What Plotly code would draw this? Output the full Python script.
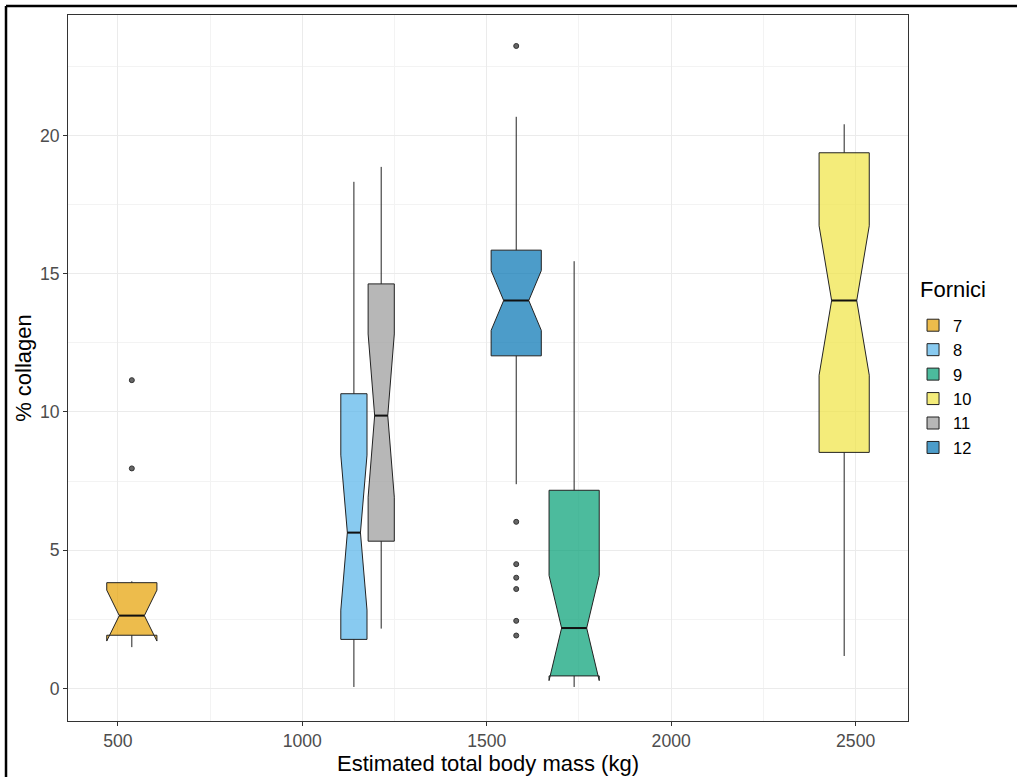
import plotly.graph_objects as go

# ---- data ----
fornici = ["7", "8", "9", "10", "11", "12"]
mass_kg = [538, 1140, 1737, 2469, 1214, 1580]          # box centres (dodged for 8 & 11)
box_width_kg = [136, 71, 136, 136, 71, 136]
q1 = [1.93, 1.78, 0.46, 8.54, 5.33, 12.03]
median = [2.64, 5.64, 2.19, 14.03, 9.87, 14.03]
q3 = [3.83, 10.66, 7.17, 19.37, 14.63, 15.85]
lower_whisker = [1.50, 0.06, 0.06, 1.18, 2.17, 7.39]
upper_whisker = [3.88, 18.32, 15.45, 20.40, 18.86, 20.67]
notch_half = [0.92, 2.8, 1.9, 2.7, 2.95, 1.08]
outliers = {
    "7": [7.96, 11.15],
    "12": [23.23, 6.03, 4.50, 4.01, 3.60, 2.45, 1.92],
}
fill_colors = ["rgba(230,159,0,0.7)", "rgba(86,180,233,0.7)", "rgba(0,158,115,0.7)",
               "rgba(240,228,66,0.7)", "rgba(153,153,153,0.7)", "rgba(0,114,178,0.7)"]

x_ticks = [500, 1000, 1500, 2000, 2500]
y_ticks = [0, 5, 10, 15, 20]
legend_title = "Fornici"

FONT = "Liberation Sans, Arial, sans-serif"
NOTCH_W = 0.25

fig = go.Figure()
for i, f in enumerate(fornici):
    fig.add_trace(go.Box(
        name=f,
        x=[mass_kg[i]],
        q1=[q1[i]], median=[median[i]], q3=[q3[i]],
        lowerfence=[lower_whisker[i]], upperfence=[upper_whisker[i]],
        notchspan=[notch_half[i]], notched=True, notchwidth=NOTCH_W,
        width=box_width_kg[i], whiskerwidth=0,
        fillcolor=fill_colors[i],
        line=dict(color="#222222", width=1),
        boxpoints=False,
        hoverinfo="skip",
    ))

# thicker median segments (ggplot "fatten")
mx, my = [], []
for i in range(len(fornici)):
    half = box_width_kg[i] / 2 * (1 - 2 * NOTCH_W)
    mx += [mass_kg[i] - half, mass_kg[i] + half, None]
    my += [median[i], median[i], None]
fig.add_trace(go.Scatter(x=mx, y=my, mode="lines", line=dict(color="#111111", width=2),
                         showlegend=False, hoverinfo="skip"))

for f, vals in outliers.items():
    i = fornici.index(f)
    fig.add_trace(go.Scatter(
        x=[mass_kg[i]] * len(vals), y=vals, mode="markers",
        marker=dict(size=5, color="#666666", line=dict(color="#333333", width=1)),
        showlegend=False, hoverinfo="skip",
    ))

axis_common = dict(
    showline=True, linecolor="#333333", linewidth=1, mirror=True,
    ticks="outside", ticklen=4, tickcolor="#333333", tickwidth=1,
    tickfont=dict(family=FONT, size=17.6, color="#4D4D4D"),
    showgrid=True, gridcolor="#EBEBEB", gridwidth=1,
    zeroline=False, automargin=False,
)

fig.update_layout(
    width=1017, height=777,
    margin=dict(l=68, r=109, t=15, b=56),
    paper_bgcolor="white", plot_bgcolor="white",
    font=dict(family=FONT, color="black"),
    xaxis=dict(
        range=[365, 2642], tickvals=x_ticks, ticktext=[str(v) for v in x_ticks],
        title=dict(text="Estimated total body mass (kg)", font=dict(family=FONT, size=22, color="black"), standoff=3),
        minor=dict(tickvals=[750, 1250, 1750, 2250], showgrid=True, gridcolor="#F3F3F3", gridwidth=0.6, ticks=""),
        **axis_common,
    ),
    yaxis=dict(
        range=[-1.17, 24.35], tickvals=y_ticks, ticktext=[str(v) for v in y_ticks],
        title=dict(text="% collagen", font=dict(family=FONT, size=22, color="black"), standoff=2),
        minor=dict(tickvals=[2.5, 7.5, 12.5, 17.5, 22.5], showgrid=True, gridcolor="#F3F3F3", gridwidth=0.6, ticks=""),
        **axis_common,
    ),
    legend=dict(
        font=dict(family=FONT, size=16.5, color="black"),
        x=1.006, xanchor="left", y=0.585, yanchor="top",
        tracegroupgap=0, itemwidth=30,
        bgcolor="rgba(0,0,0,0)",
    ),
    showlegend=True,
    annotations=[
        dict(text=legend_title, xref="paper", yref="paper", x=1.012, y=0.611,
             xanchor="left", yanchor="middle", showarrow=False,
             font=dict(family=FONT, size=22, color="black")),
    ],
    shapes=[
        dict(type="line", xref="paper", yref="paper", x0=-0.0738, x1=1.14, y0=1.0128, y1=1.0128,
             line=dict(color="black", width=2.5)),
        dict(type="line", xref="paper", yref="paper", x0=-0.0738, x1=-0.0738, y0=-0.09, y1=1.0128,
             line=dict(color="black", width=2.5)),
    ],
)

fig.write_html("out.html", config={"displayModeBar": False},
               post_script="document.body.style.margin='0';")
